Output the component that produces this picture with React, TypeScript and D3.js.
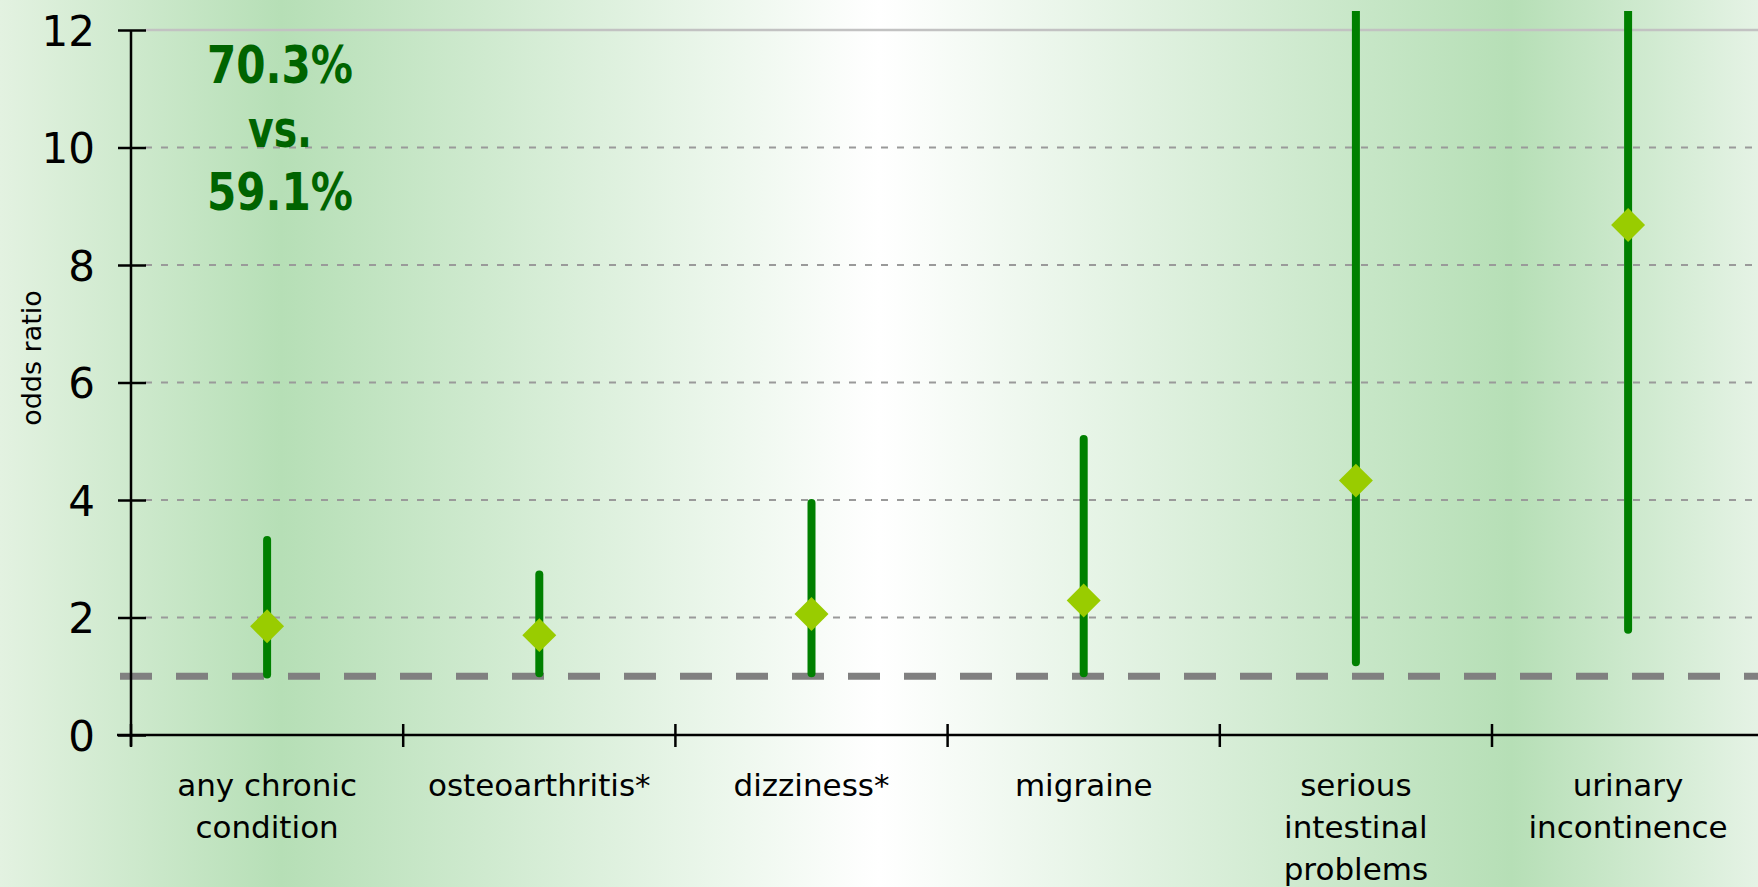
import { useEffect, useRef } from 'react'
import * as d3 from 'd3'

const categories = [
  ['any chronic', 'condition'],
  ['osteoarthritis*'],
  ['dizziness*'],
  ['migraine'],
  ['serious', 'intestinal', 'problems'],
  ['urinary', 'incontinence'],
]
const oddsRatio = [1.85, 1.7, 2.06, 2.29, 4.33, 8.68]
const lowerCI = [1.03, 1.05, 1.05, 1.05, 1.24, 1.79]
const upperCI = [3.32, 2.73, 3.95, 5.04, 15.0, 20.0]
const yTicks = [0, 2, 4, 6, 8, 10, 12]
const annotation = ['70.3%', 'vs.', '59.1%']

function App() {
  const ref = useRef<SVGSVGElement>(null)

  const drawChart = () => {
    const width = 1758,
      height = 887,
      left = 131,
      band = 272.2

    const svg = d3.select(ref.current)
    svg.selectAll('*').remove()
    svg.attr('width', width).attr('height', height)

    const defs = svg.append('defs')
    const grad = defs
      .append('linearGradient')
      .attr('id', 'bg')
      .attr('x1', '0%')
      .attr('x2', '100%')
      .attr('y1', '0%')
      .attr('y2', '0%')
    const stops: [number, string][] = [
      [0, '#e3f2e1'],
      [0.16, '#b6dfb6'],
      [0.5, '#ffffff'],
      [0.86, '#b6dfb6'],
      [1, '#e5f3e5'],
    ]
    stops.forEach(([o, c]) => grad.append('stop').attr('offset', o).attr('stop-color', c))
    defs
      .append('clipPath')
      .attr('id', 'plot')
      .append('rect')
      .attr('x', 0)
      .attr('y', 11)
      .attr('width', width)
      .attr('height', height)

    svg.append('rect').attr('width', width).attr('height', height).attr('fill', 'url(#bg)')

    const x = d3
      .scaleBand<number>()
      .domain(d3.range(categories.length))
      .range([left, left + band * categories.length])
    const y = d3.scaleLinear().domain([0, 12]).range([735, 30])

    // grid lines
    svg
      .append('g')
      .selectAll('line')
      .data(yTicks.filter((t) => t > 0))
      .enter()
      .append('line')
      .attr('x1', 145)
      .attr('x2', width)
      .attr('y1', (d) => y(d))
      .attr('y2', (d) => y(d))
      .attr('stroke', (d) => (d === 12 ? '#c2c2c2' : '#9a9a9a'))
      .attr('stroke-width', (d) => (d === 12 ? 2.5 : 2))
      .attr('stroke-dasharray', (d) => (d === 12 ? null : '7,9'))

    // reference line at OR = 1
    svg
      .append('line')
      .attr('x1', 120)
      .attr('x2', width)
      .attr('y1', y(1))
      .attr('y2', y(1))
      .attr('stroke', '#808080')
      .attr('stroke-width', 7)
      .attr('stroke-dasharray', '32,24')

    // y axis
    const yAxis = d3
      .axisLeft(y)
      .tickValues(yTicks)
      .tickSizeInner(13)
      .tickSizeOuter(0)
      .tickPadding(23)
    const gy = svg.append('g').attr('transform', `translate(${left},0)`).call(yAxis)
    gy.select('.domain').attr('stroke', '#000').attr('stroke-width', 2.5).attr('d', `M0,${y(12)}V746`)
    gy.selectAll('.tick line').attr('x1', -13).attr('x2', 15).attr('stroke', '#000').attr('stroke-width', 2.5)
    gy.selectAll('.tick text')
      .attr('font-family', 'DejaVu Sans, Verdana, sans-serif')
      .attr('font-size', 42)
      .attr('fill', '#000')
      .attr('dy', '0.36em')

    // x axis
    const gx = svg.append('g').attr('transform', `translate(0,${y(0)})`)
    gx.append('line')
      .attr('x1', 117)
      .attr('x2', width)
      .attr('stroke', '#000')
      .attr('stroke-width', 2.5)
    gx.selectAll('.xt')
      .data(d3.range(categories.length))
      .enter()
      .append('line')
      .attr('class', 'xt')
      .attr('x1', (d) => x(d)!)
      .attr('x2', (d) => x(d)!)
      .attr('y1', -11)
      .attr('y2', 12)
      .attr('stroke', '#000')
      .attr('stroke-width', 2.5)

    const labels = svg
      .append('g')
      .selectAll('text')
      .data(categories)
      .enter()
      .append('text')
      .attr('text-anchor', 'middle')
      .attr('font-family', 'DejaVu Sans, Verdana, sans-serif')
      .attr('font-size', 31)
      .attr('fill', '#000')
    labels
      .selectAll('tspan')
      .data((d, i) => d.map((s) => ({ s, i })))
      .enter()
      .append('tspan')
      .attr('x', (d) => x(d.i)! + x.bandwidth() / 2)
      .attr('y', (_d, j) => 796 + j * 42)
      .text((d) => d.s)

    // y axis title
    svg
      .append('text')
      .attr('transform', 'translate(41,358) rotate(-90)')
      .attr('text-anchor', 'middle')
      .attr('font-family', 'DejaVu Sans, Verdana, sans-serif')
      .attr('font-size', 27)
      .attr('fill', '#000')
      .text('odds ratio')

    // error bars and points
    const cx = (i: number) => x(i)! + x.bandwidth() / 2
    const marks = svg.append('g').attr('clip-path', 'url(#plot)')
    marks
      .selectAll('line')
      .data(oddsRatio)
      .enter()
      .append('line')
      .attr('x1', (_d, i) => cx(i))
      .attr('x2', (_d, i) => cx(i))
      .attr('y1', (_d, i) => y(lowerCI[i]))
      .attr('y2', (_d, i) => y(upperCI[i]))
      .attr('stroke', '#008000')
      .attr('stroke-width', 8)
      .attr('stroke-linecap', 'round')

    const diamond = d3.symbol().type(d3.symbolSquare).size(24 * 24)
    marks
      .selectAll('path')
      .data(oddsRatio)
      .enter()
      .append('path')
      .attr('d', diamond)
      .attr('transform', (d, i) => `translate(${cx(i)},${y(d)}) rotate(45)`)
      .attr('fill', '#99cc00')

    // annotation
    const widths = [146, 64, 146]
    svg
      .append('g')
      .selectAll('text')
      .data(annotation)
      .enter()
      .append('text')
      .attr('x', 280)
      .attr('y', (_d, i) => 83 + i * 63.5)
      .attr('text-anchor', 'middle')
      .attr('font-family', 'DejaVu Sans, Verdana, sans-serif')
      .attr('font-weight', 'bold')
      .attr('font-size', 52)
      .attr('fill', '#006400')
      .attr('textLength', (_d, i) => widths[i])
      .attr('lengthAdjust', 'spacingAndGlyphs')
      .text((d) => d)
  }

  useEffect(() => {
    drawChart()
  })

  return <svg ref={ref} style={{ position: 'absolute', left: 0, top: 0, display: 'block' }} />
}

export default App
